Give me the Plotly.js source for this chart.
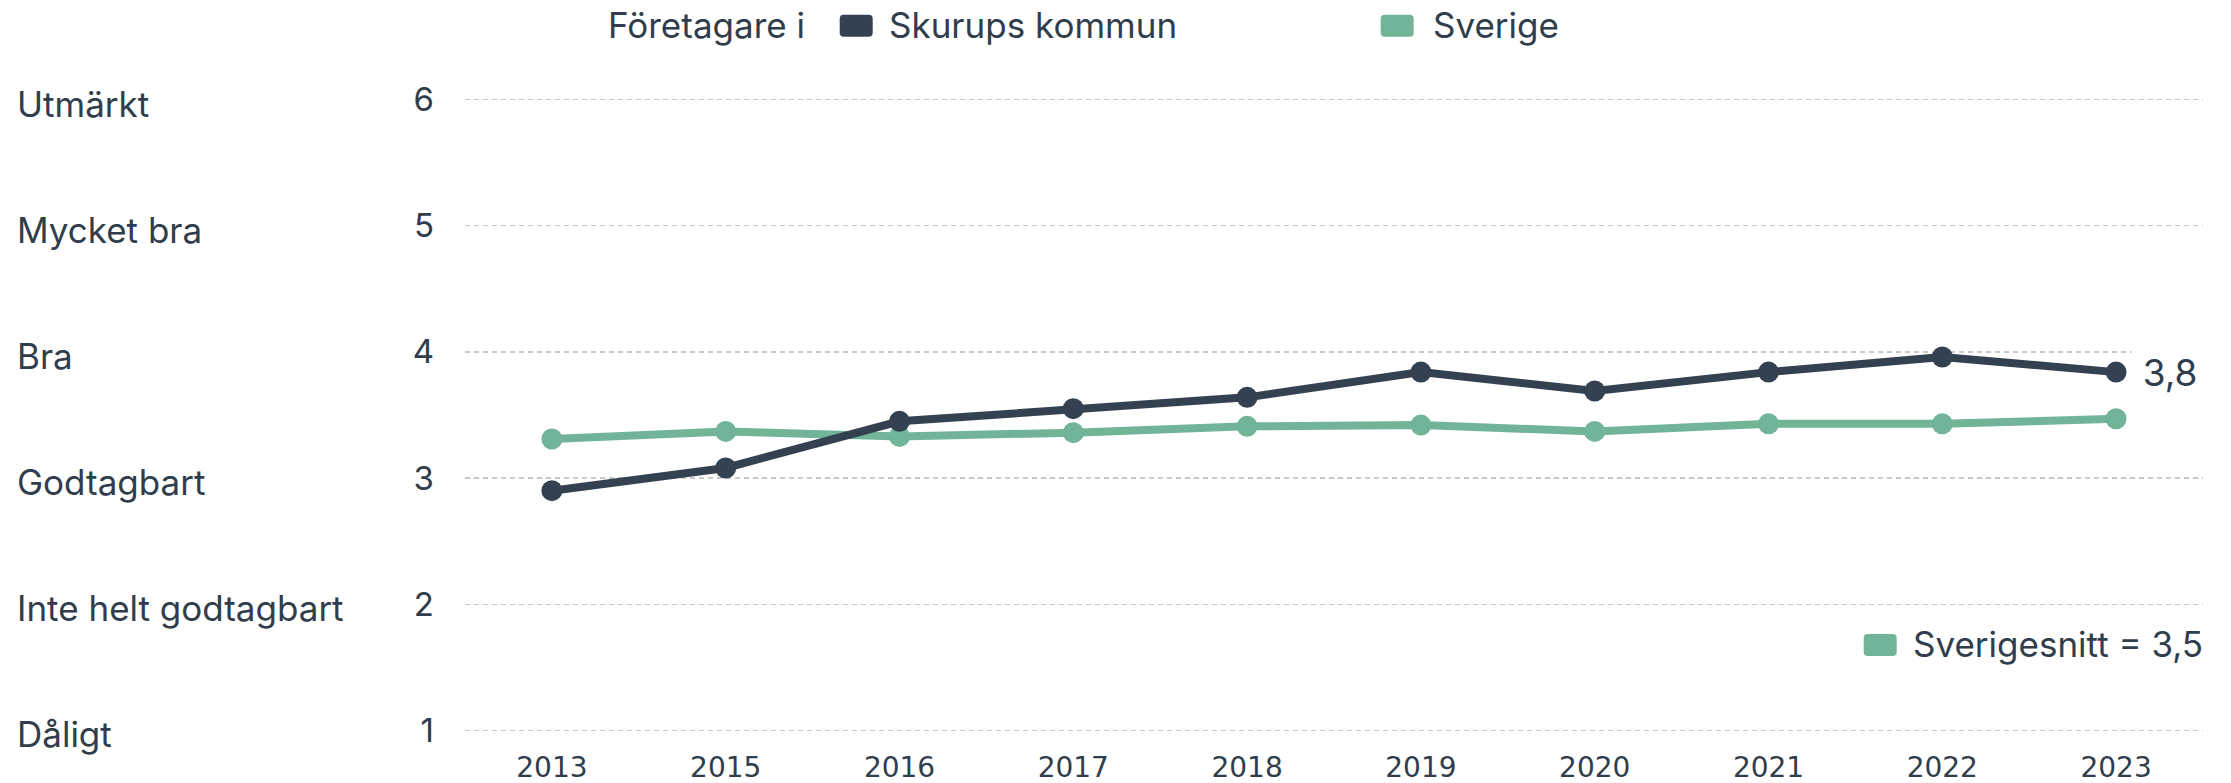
<!DOCTYPE html>
<html>
<head>
<meta charset="utf-8">
<script src="https://cdn.plot.ly/plotly-3.0.1.min.js"></script>
<style>html,body{margin:0;padding:0;background:#fff;}#chart{width:2231px;height:783px;}</style>
</head>
<body>
<div id="chart"></div>
<script>
// ---- data ----
var years = ['2013', '2015', '2016', '2017', '2018', '2019', '2020', '2021', '2022', '2023'];
var skurup = [2.90, 3.08, 3.45, 3.55, 3.64, 3.84, 3.69, 3.84, 3.96, 3.84];
var sverige = [3.31, 3.37, 3.33, 3.36, 3.41, 3.42, 3.37, 3.43, 3.43, 3.47];
var scoreValues = [1, 2, 3, 4, 5, 6];
var scoreLabels = ['Dåligt', 'Inte helt godtagbart', 'Godtagbart', 'Bra', 'Mycket bra', 'Utmärkt'];
var seriesNames = ['Skurups kommun', 'Sverige'];
var legendPrefix = 'Företagare i';
var avgLabel = 'Sverigesnitt';

// ---- style ----
var DARK = '#334150';
var TEXT = '#2f3d4c';
var GREEN = '#72b498';
var W = 2231, H = 783;
var L = 464.8, R = 28.2, T = 86.5, B = 39.8;
var PW = W - L - R, PH = H - T - B;
function px(x) { return (x - L) / PW; }
function py(y) { return (H - B - y) / PH; }
function fmt(v) { return v.toFixed(1).replace('.', ','); }
function rrect(w, h, r) {
  var a = w / 2, b = h / 2;
  return 'M ' + (-a + r) + ',' + (-b) + ' H ' + (a - r) + ' Q ' + a + ',' + (-b) + ' ' + a + ',' + (-b + r) +
    ' V ' + (b - r) + ' Q ' + a + ',' + b + ' ' + (a - r) + ',' + b + ' H ' + (-a + r) +
    ' Q ' + (-a) + ',' + b + ' ' + (-a) + ',' + (b - r) + ' V ' + (-b + r) +
    ' Q ' + (-a) + ',' + (-b) + ' ' + (-a + r) + ',' + (-b) + ' Z';
}
function swatch(cx, cy, color) {
  return {type: 'path', xref: 'paper', yref: 'paper', xsizemode: 'pixel', ysizemode: 'pixel',
    xanchor: px(cx), yanchor: py(cy), path: rrect(33, 22, 4),
    fillcolor: color, line: {width: 0}};
}

var traces = [
  {x: years, y: sverige, name: seriesNames[1], type: 'scatter', mode: 'lines+markers',
   line: {color: GREEN, width: 8}, marker: {color: GREEN, size: 21}, showlegend: false},
  {x: years, y: skurup, name: seriesNames[0], type: 'scatter', mode: 'lines+markers',
   line: {color: DARK, width: 8}, marker: {color: DARK, size: 21}, showlegend: false}
];

var annotations = [];
for (var i = 0; i < scoreValues.length; i++) {
  annotations.push({xref: 'paper', yref: 'y', x: px(15), y: scoreValues[i], xanchor: 'left', yanchor: 'middle',
    yshift: -4, text: scoreLabels[i], showarrow: false, font: {family: 'Inter', size: 35, color: TEXT}});
}
var last = years.length - 1;
annotations.push({xref: 'x', yref: 'y', x: last, y: skurup[last], xanchor: 'left', yanchor: 'middle',
  xshift: 15, text: fmt(skurup[last]), showarrow: false, bgcolor: '#ffffff', borderpad: 0, width: 76, height: 50,
  align: 'center', font: {family: 'Inter', size: 37, color: TEXT}});
annotations.push({xref: 'paper', yref: 'paper', x: px(606), y: py(24), xanchor: 'left', yanchor: 'middle',
  text: legendPrefix, showarrow: false, font: {family: 'Inter', size: 35, color: TEXT}});
annotations.push({xref: 'paper', yref: 'paper', x: px(887), y: py(24), xanchor: 'left', yanchor: 'middle',
  text: seriesNames[0], showarrow: false, font: {family: 'Inter', size: 35, color: TEXT}});
annotations.push({xref: 'paper', yref: 'paper', x: px(1431), y: py(24), xanchor: 'left', yanchor: 'middle',
  text: seriesNames[1], showarrow: false, font: {family: 'Inter', size: 35, color: TEXT}});
annotations.push({xref: 'paper', yref: 'paper', x: px(2205), y: py(644), xanchor: 'right', yanchor: 'middle',
  text: avgLabel + ' = ' + fmt(sverige[last]), showarrow: false, font: {family: 'Inter', size: 35, color: TEXT}});

var shapes = [swatch(856, 25.3, DARK), swatch(1397, 25.3, GREEN), swatch(1880, 645, GREEN)];

var layout = {
  width: W, height: H,
  margin: {l: L, r: R, t: T, b: B, pad: 0},
  paper_bgcolor: '#ffffff', plot_bgcolor: '#ffffff',
  showlegend: false,
  font: {family: 'Inter', color: TEXT},
  xaxis: {type: 'category', range: [-0.5, years.length - 0.5], showgrid: false, zeroline: false, showline: false,
    ticks: '', ticklabelstandoff: 5, tickfont: {family: 'DejaVu Sans', size: 28, color: TEXT}},
  yaxis: {range: [0.9, 6.1], tickvals: scoreValues, ticktext: scoreValues.map(String), showgrid: true,
    gridcolor: '#c9c9c9', gridwidth: 1.2, griddash: '5px,4px', zeroline: false, showline: false, ticks: '',
    ticklabelstandoff: 30, tickfont: {family: 'Inter', size: 33, color: TEXT}},
  annotations: annotations,
  shapes: shapes
};

Plotly.newPlot('chart', traces, layout, {displayModeBar: false, staticPlot: true});
</script>
</body>
</html>
